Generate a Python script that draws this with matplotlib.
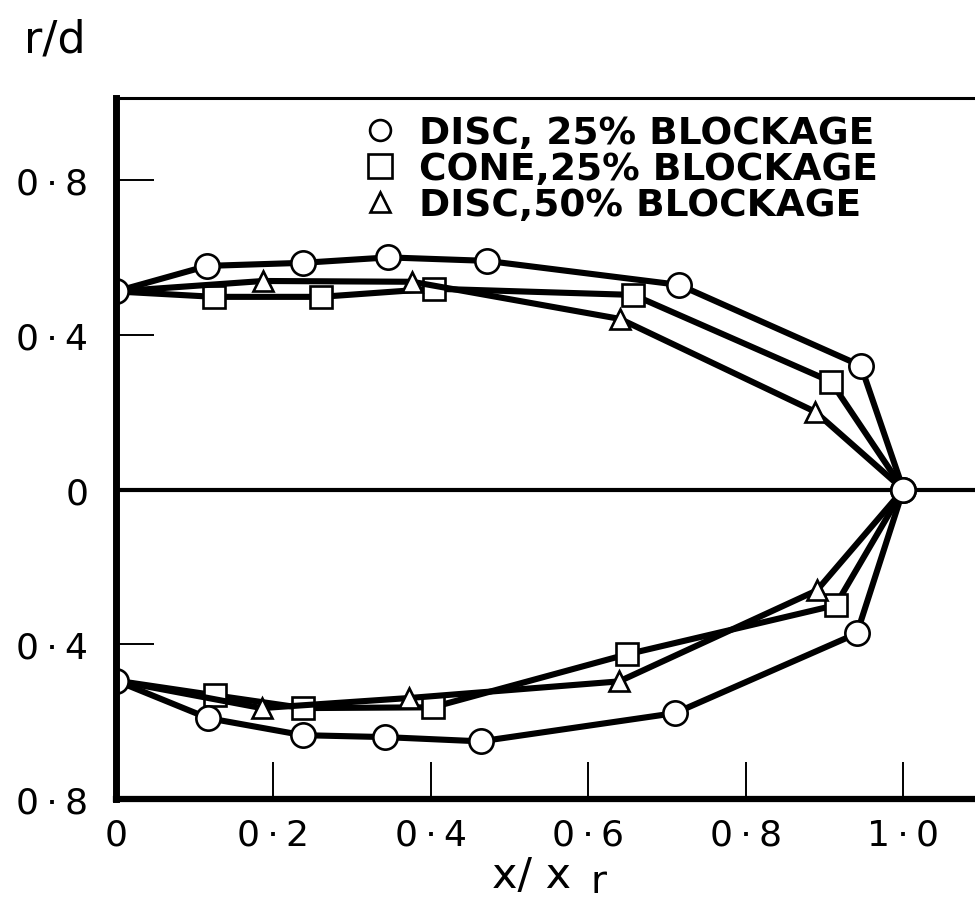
import matplotlib
matplotlib.use("Agg")
import matplotlib.pyplot as plt
from matplotlib.lines import Line2D

# Reattachment-bubble profiles r/d against x/x_r for three bluff bodies
x_disc25_up = [0.0, 0.116, 0.238, 0.346, 0.471, 0.715, 0.946, 1.0]
r_disc25_up = [0.512, 0.578, 0.586, 0.600, 0.591, 0.529, 0.320, 0.0]
x_disc25_lo = [0.0, 0.117, 0.237, 0.342, 0.463, 0.710, 0.941, 1.0]
r_disc25_lo = [-0.494, -0.591, -0.635, -0.640, -0.651, -0.578, -0.372, 0.0]

x_cone25_up = [0.0, 0.125, 0.260, 0.404, 0.657, 0.908, 1.0]
r_cone25_up = [0.512, 0.498, 0.498, 0.519, 0.503, 0.279, 0.0]
x_cone25_lo = [0.0, 0.126, 0.238, 0.402, 0.649, 0.914, 1.0]
r_cone25_lo = [-0.494, -0.532, -0.565, -0.563, -0.426, -0.299, 0.0]

x_disc50_up = [0.0, 0.187, 0.376, 0.640, 0.888, 1.0]
r_disc50_up = [0.512, 0.539, 0.537, 0.441, 0.201, 0.0]
x_disc50_lo = [0.0, 0.185, 0.372, 0.639, 0.890, 1.0]
r_disc50_lo = [-0.494, -0.565, -0.539, -0.496, -0.261, 0.0]

legend_labels = ["DISC, 25% BLOCKAGE", "CONE,25% BLOCKAGE", "DISC,50% BLOCKAGE"]

x_ticks = [0.0, 0.2, 0.4, 0.6, 0.8, 1.0]
x_tick_labels = ["0", "0\u2009·\u20092", "0\u2009·\u20094", "0\u2009·\u20096", "0\u2009·\u20098", "1\u2009·\u20090"]
y_ticks = [0.8, 0.4, 0.0, -0.4, -0.8]
y_tick_labels = ["0\u2009·\u20098", "0\u2009·\u20094", "0", "0\u2009·\u20094", "0\u2009·\u20098"]

W, H = 975, 904
fig = plt.figure(figsize=(W / 100, H / 100), dpi=100)
ax = fig.add_axes([116 / W, (H - 800) / H, (W - 116) / W, (800 - 99) / H])
ax.set_xlim(0, 1.091)
ax.set_ylim(-0.8, 1.012)

ax.axhline(0, color="black", lw=3.0, zorder=1)

line_kw = dict(color="black", lw=4.4, solid_joinstyle="round", solid_capstyle="round", zorder=2)
mark_kw = dict(mfc="white", mec="black", mew=1.9)

# cone and 50% disc share the end points with the 25% disc, so only interior markers
for xs, ys in [(x_cone25_up, r_cone25_up), (x_cone25_lo, r_cone25_lo)]:
    ax.plot(xs, ys, marker="s", ms=16, markevery=slice(1, -1), **line_kw, **mark_kw)
for xs, ys in [(x_disc50_up, r_disc50_up), (x_disc50_lo, r_disc50_lo)]:
    ax.plot(xs, ys, marker="^", ms=14, markevery=slice(1, -1), **line_kw, **mark_kw)
for xs, ys in [(x_disc25_up, r_disc25_up), (x_disc25_lo, r_disc25_lo)]:
    ax.plot(xs, ys, marker="o", ms=17.5, **line_kw, **mark_kw)

# axes frame: open on the right
ax.spines["right"].set_visible(False)
ax.spines["left"].set_linewidth(5)
ax.spines["bottom"].set_linewidth(4.5)
ax.spines["top"].set_linewidth(2.2)

ax.set_xticks(x_ticks)
ax.set_xticklabels(x_tick_labels)
ax.set_yticks(y_ticks)
ax.set_yticklabels(y_tick_labels)
ax.tick_params(direction="in", length=27, width=1.4, top=False, right=False,
               labelsize=26)
ax.tick_params(axis="x", pad=13)
ax.tick_params(axis="y", pad=20)

handles = [
    Line2D([], [], ls="none", marker="o", ms=15, **mark_kw),
    Line2D([], [], ls="none", marker="s", ms=17, **mark_kw),
    Line2D([], [], ls="none", marker="^", ms=14, **mark_kw),
]
ax.legend(handles, legend_labels, loc="upper left", bbox_to_anchor=(0.2875, 0.976),
          frameon=False, borderpad=0, borderaxespad=0, handlelength=0.9,
          handletextpad=0.6, labelspacing=0.0,
          prop=dict(weight="bold", size=27))

# axis titles
fig.text(55 / W, 1 - 40 / H, "r/d", fontsize=32, ha="center", va="center")
fig.text(532 / W, 1 - 876 / H, "x/ x", fontsize=31, ha="center", va="center")
fig.text(598 / W, 1 - 882 / H, "r", fontsize=28, ha="center", va="center")

fig.savefig("out.png", dpi=100)
